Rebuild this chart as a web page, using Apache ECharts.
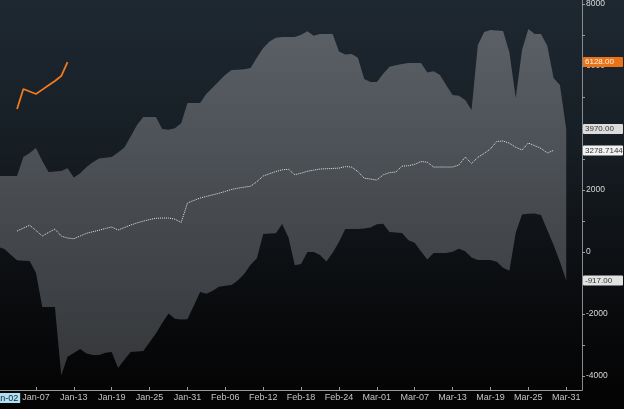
<!DOCTYPE html>
<html><head><meta charset="utf-8">
<script src="https://cdn.jsdelivr.net/npm/echarts@6/dist/echarts.min.js"></script>
<style>
html,body{margin:0;padding:0;width:624px;height:409px;overflow:hidden;background:#000;}
#c{width:624px;height:409px;background:linear-gradient(to bottom,#1e2831 0%,#182027 30%,#101418 55%,#08090b 80%,#030303 100%);}
</style></head><body><div id="c"></div>
<script>
// x axis: day index, 0 = Jan-01 (leap year)
const tickDays = [6,12,18,24,30,36,42,48,54,60,66,72,78,84,90];
const tickLabels = ['Jan-07','Jan-13','Jan-19','Jan-25','Jan-31','Feb-06','Feb-12','Feb-18','Feb-24','Mar-01','Mar-07','Mar-13','Mar-19','Mar-25','Mar-31'];
const startLabelDay = 1;
const startLabel = 'Jan-02';
// y axis
const yLabelValues = [-4000,-2000,0,2000,4000,6000,8000];
const yTickValues = [-4000,-3000,-2000,-1000,0,1000,2000,3000,4000,5000,6000,7000,8000];

// band: historical max / min, days 0..90
const bandStartDay = 0;
const maxVals = [2450,2450,2450,2450,3065,3194,3355,2936,2581,2597,
 2613,2700,2403,2539,2745,2894,3016,3045,3065,3213,
 3371,3729,4097,4355,4355,4355,3968,3945,3994,4155,
 4807,4807,4807,5107,5310,5516,5720,5871,5884,5894,
 5936,6278,6581,6788,6910,6936,6936,6936,7013,7120,
 6975,7033,7033,7033,6471,6368,6387,6268,5581,5484,
 5484,5749,5978,6026,6062,6097,6097,6097,5791,5829,
 5713,5381,5065,5045,4903,4581,6678,7097,7162,7145,
 7129,6433,4968,6517,7194,7033,7033,6658,5613,5387,
 3970];
const minVals = [161,100,-84,-261,-277,-290,-677,-1774,-1774,-1774,
 -3980,-3378,-3258,-3129,-3274,-3323,-3323,-3249,-3226,-3742,
 -3471,-3226,-3210,-3194,-2910,-2629,-2290,-1981,-2155,-2178,
 -2168,-1729,-1290,-1348,-1245,-1116,-1084,-1065,-913,-700,
 -406,-200,581,597,610,903,471,-426,-387,0,
 0,-97,-303,-23,326,742,742,742,761,794,
 897,913,645,629,613,384,297,19,-242,-32,
 -32,-32,6,110,23,-177,-258,-258,-258,-310,
 -503,-600,619,1210,1236,1245,1197,710,226,-310,
 -917];

// historical average, days 3..88
const avgStartDay = 3;
const avgVals = [677,771,865,697,516,632,742,516,452,429,
 516,603,655,703,761,807,710,790,871,939,
 997,1048,1090,1097,1097,1061,952,1581,1665,1742,
 1794,1845,1897,1955,2019,2061,2094,2123,2271,2452,
 2526,2597,2652,2668,2494,2542,2607,2642,2678,2687,
 2697,2707,2758,2739,2597,2381,2355,2323,2490,2561,
 2581,2771,2784,2829,2920,2897,2742,2742,2742,2742,
 2810,3065,2858,3055,3181,3329,3568,3581,3510,3381,
 3294,3516,3432,3345,3197,3278.7144];

// current year, days 3..11
const curStartDay = 3;
const curVals = [4613,5258,5178,5097,5239,5381,5520,5678,6128];

const toPairs = (arr, start) => arr.map((v, i) => [start + i, v]);
// band data as [value, day] so that the value dimension is the stacked one
const toValDay = (arr, start) => arr.map((v, i) => [v, start + i]);
const minData = toValDay(minVals, bandStartDay);
const rangeData = toValDay(maxVals.map((v, i) => v - minVals[i]), bandStartDay);
const avgData = toPairs(avgVals, avgStartDay);
const curData = toPairs(curVals, curStartDay);

const last = a => a[a.length - 1];
function tag(value, text, bg, fg) {
  return {
    silent: true, animation: false,
    symbol: ['none', 'none'],
    lineStyle: { color: 'rgba(0,0,0,0)', width: 1 },
    label: {
      show: true, position: 'end', distance: 1, formatter: text,
      backgroundColor: bg, color: fg, fontSize: 8, fontFamily: 'Liberation Sans, Arial, sans-serif',
      padding: [1, 2, 1, 2], width: 36, borderRadius: 1
    },
    data: [{ yAxis: value }]
  };
}

const chart = echarts.init(document.getElementById('c'), null, { renderer: 'canvas' });
const axisFont = 'Liberation Sans, Arial, sans-serif';
const labelCommon = { fontSize: 9, fontFamily: axisFont, margin: 3 };
chart.setOption({
  backgroundColor: 'transparent',
  animation: false,
  grid: { left: 0, right: 42, top: 0, bottom: 19, outerBoundsMode: 'none', containLabel: false },
  xAxis: [{
    type: 'value', min: 0.3, max: 92.5,
    axisLine: { show: true, onZero: false, lineStyle: { color: '#9a9a9a', width: 1 } },
    axisTick: { show: true, inside: true, length: 3, customValues: tickDays, lineStyle: { color: '#9a9a9a' } },
    splitLine: { show: false },
    axisLabel: Object.assign({
      color: '#c4c4c4', customValues: tickDays,
      formatter: v => { const i = tickDays.indexOf(v); return i >= 0 ? tickLabels[i] : ''; }
    }, labelCommon)
  }, {
    type: 'value', min: 0.3, max: 92.5, position: 'bottom',
    axisLine: { show: false, onZero: false }, axisTick: { show: false }, splitLine: { show: false },
    axisLabel: Object.assign({
      customValues: [startLabelDay], showMinLabel: true, showMaxLabel: true,
      formatter: v => (v === startLabelDay ? '{hl|' + startLabel + '}' : ''),
      rich: { hl: { backgroundColor: '#aee0f2', color: '#0d2233', fontSize: 9, fontFamily: axisFont, padding: [1, 2, 0, 2] } }
    }, labelCommon)
  }],
  yAxis: {
    type: 'value', position: 'right', min: -4450, max: 8130,
    axisLine: { show: true, onZero: false, lineStyle: { color: '#8a8a8a' } },
    axisTick: { show: true, length: 3, customValues: yTickValues, lineStyle: { color: '#9a9a9a' } },
    splitLine: { show: false },
    axisLabel: { color: '#d8d8d8', fontSize: 8.5, fontFamily: axisFont, margin: 4, customValues: yLabelValues, formatter: v => String(v) }
  },
  series: [
    {
      name: 'min', type: 'line', data: minData, encode: { x: 1, y: 0 },
      stack: 'band', stackStrategy: 'all',
      symbol: 'none', lineStyle: { width: 0, opacity: 0 }, z: 1,
      markLine: tag(last(minVals), last(minVals).toFixed(2), '#e2e2e2', '#333')
    },
    {
      name: 'range', type: 'line', data: rangeData, encode: { x: 1, y: 0 },
      stack: 'band', stackStrategy: 'all',
      symbol: 'none', lineStyle: { width: 0, opacity: 0 }, z: 1,
      areaStyle: {
        opacity: 1,
        color: new echarts.graphic.LinearGradient(0, 0, 0, 1, [
          { offset: 0, color: '#5a6066' }, { offset: 0.5, color: '#474b50' }, { offset: 1, color: '#35373a' }
        ])
      },
      markLine: tag(last(maxVals), last(maxVals).toFixed(2), '#dcdcdc', '#333')
    },
    {
      name: 'avg', type: 'line', data: avgData, symbol: 'none', z: 3,
      lineStyle: { color: '#e6e6e6', width: 1, type: [1, 1] },
      markLine: tag(last(avgVals), String(last(avgVals)), '#f2f2f2', '#333')
    },
    {
      name: 'current', type: 'line', data: curData, symbol: 'none', z: 4,
      lineStyle: { color: '#f07a1e', width: 1.8 },
      markLine: tag(last(curVals), last(curVals).toFixed(2), '#ea7318', '#fff3e6')
    }
  ]
});
</script></body></html>
